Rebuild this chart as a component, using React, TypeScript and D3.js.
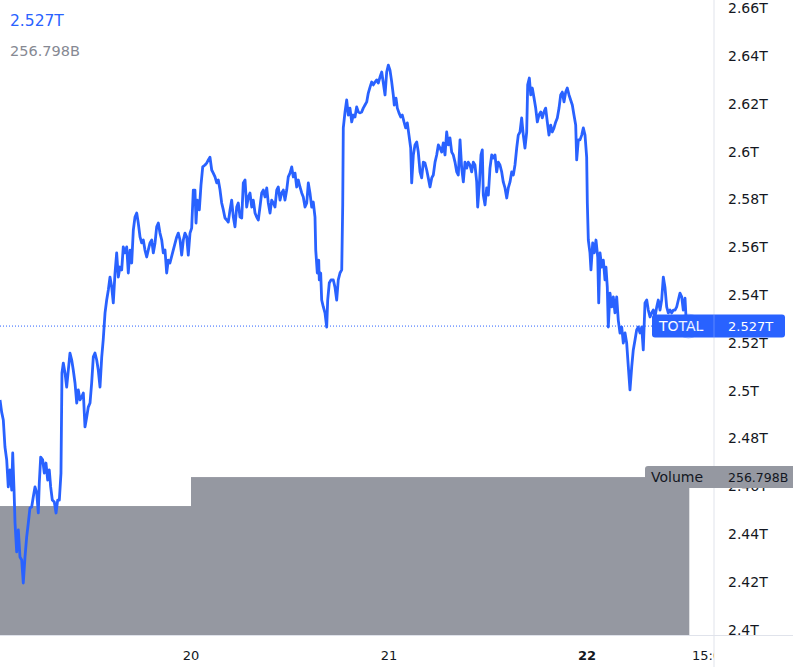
import * as d3 from 'd3'

// total crypto market cap, hours since Jan 19 00:00 -> trillions
const totalCap: [number, number][] = [
  [0.85, 2.4961], [1.05, 2.491], [1.25, 2.4877], [1.45, 2.4764], [1.66, 2.471], [1.85, 2.4597], [2.06, 2.4668],
  [2.27, 2.4584], [2.39, 2.4739], [2.55, 2.4584], [2.67, 2.4446], [2.87, 2.4325], [3.07, 2.4417], [3.27, 2.4304],
  [3.48, 2.4291], [3.67, 2.4195], [3.88, 2.4304], [4.08, 2.4387], [4.28, 2.4446], [4.48, 2.4509], [4.69, 2.4513],
  [4.88, 2.4555], [5.09, 2.4597], [5.3, 2.4572], [5.49, 2.4488], [5.61, 2.4613], [5.78, 2.4722], [6.02, 2.471],
  [6.22, 2.4655], [6.42, 2.4697], [6.63, 2.4626], [6.82, 2.4668], [6.99, 2.4597], [7.19, 2.4542], [7.43, 2.4534],
  [7.64, 2.4488], [7.84, 2.4542], [8.04, 2.4542], [8.24, 2.4655], [8.36, 2.5074], [8.52, 2.5115], [8.73, 2.5074],
  [8.93, 2.5015], [9.13, 2.5086], [9.33, 2.5157], [9.54, 2.5128], [9.73, 2.5086], [9.94, 2.5032], [10.15, 2.4948],
  [10.34, 2.5003], [10.55, 2.4961], [10.75, 2.4973], [10.95, 2.499], [11.15, 2.4848], [11.36, 2.489], [11.55, 2.4931],
  [11.76, 2.4948], [11.96, 2.5032], [12.16, 2.5141], [12.36, 2.5157], [12.57, 2.5128], [12.76, 2.5086], [12.97, 2.5015],
  [13.18, 2.5141], [13.36, 2.5212], [13.58, 2.5325], [13.78, 2.5379], [13.98, 2.5421], [14.18, 2.5475], [14.39, 2.5433],
  [14.58, 2.5367], [14.79, 2.5492], [14.99, 2.5576], [15.19, 2.5475], [15.39, 2.5517], [15.6, 2.5505], [15.79, 2.5601],
  [16.0, 2.5576], [16.21, 2.5601], [16.4, 2.5492], [16.61, 2.5588], [16.81, 2.5534], [17.01, 2.5672], [17.21, 2.5726],
  [17.42, 2.5743], [17.61, 2.5701], [17.82, 2.5643], [18.02, 2.5618], [18.22, 2.563], [18.42, 2.5588], [18.63, 2.5559],
  [18.82, 2.5588], [19.03, 2.5618], [19.24, 2.563], [19.43, 2.5576], [19.64, 2.5618], [19.84, 2.5685], [20.04, 2.5701],
  [20.24, 2.5659], [20.45, 2.563], [20.64, 2.5576], [20.85, 2.5588], [21.05, 2.5492], [21.25, 2.5546], [21.45, 2.5534],
  [21.85, 2.5588], [22.27, 2.5643], [22.46, 2.5659], [22.67, 2.563], [22.87, 2.5567], [23.07, 2.563], [23.27, 2.5659],
  [23.48, 2.5643], [23.67, 2.5567], [23.88, 2.5659], [24.08, 2.568], [24.28, 2.5839], [24.48, 2.5839], [24.61, 2.5701],
  [24.76, 2.5797], [25.01, 2.5756], [25.21, 2.586], [25.42, 2.5936], [25.7, 2.5944], [25.9, 2.5952], [26.1, 2.5965],
  [26.3, 2.5977], [26.51, 2.5923], [26.7, 2.591], [26.91, 2.5894], [27.12, 2.5869], [27.31, 2.5881], [27.52, 2.5839],
  [27.72, 2.5785], [27.92, 2.5756], [28.12, 2.5722], [28.33, 2.5714], [28.52, 2.5705], [28.73, 2.5756], [28.93, 2.5797],
  [29.13, 2.5726], [29.33, 2.5685], [29.54, 2.5768], [29.73, 2.5785], [29.94, 2.5726], [30.15, 2.5722], [30.34, 2.5869],
  [30.55, 2.5881], [30.75, 2.5768], [30.95, 2.581], [31.15, 2.5827], [31.36, 2.5768], [31.55, 2.5797], [31.76, 2.5743],
  [31.96, 2.5726], [32.16, 2.5714], [32.36, 2.5768], [32.57, 2.5827], [32.76, 2.5839], [32.97, 2.581], [33.18, 2.5848],
  [33.37, 2.5785], [33.58, 2.5743], [33.78, 2.5797], [33.98, 2.5785], [34.18, 2.5768], [34.39, 2.5839], [34.58, 2.5852],
  [34.79, 2.5797], [34.99, 2.5827], [35.19, 2.5839], [35.39, 2.5797], [35.6, 2.5839], [35.79, 2.5894], [36.0, 2.591],
  [36.21, 2.5936], [36.4, 2.5894], [36.61, 2.591], [36.81, 2.5852], [37.01, 2.5881], [37.21, 2.5852], [37.42, 2.5827],
  [37.61, 2.581], [37.82, 2.5768], [38.03, 2.5785], [38.22, 2.5869], [38.42, 2.5827], [38.63, 2.5768], [38.82, 2.5789],
  [39.03, 2.5726], [39.12, 2.5588], [39.31, 2.5492], [39.48, 2.5546], [39.55, 2.5463], [39.72, 2.5492], [39.84, 2.5379],
  [40.04, 2.535], [40.24, 2.5325], [40.45, 2.5266], [40.57, 2.5379], [40.76, 2.545], [40.97, 2.5463], [41.25, 2.5463],
  [41.45, 2.5433], [41.66, 2.5379], [41.85, 2.5463], [42.06, 2.5492], [42.27, 2.5505], [42.39, 2.5777], [42.46, 2.6099],
  [42.67, 2.6166], [42.87, 2.6216], [43.07, 2.6153], [43.27, 2.6182], [43.48, 2.6124], [43.67, 2.6153], [43.88, 2.6145],
  [44.08, 2.6187], [44.28, 2.6166], [44.48, 2.6162], [44.69, 2.6166], [44.88, 2.6182], [45.09, 2.6195], [45.3, 2.6208],
  [45.49, 2.6245], [45.7, 2.627], [45.9, 2.6291], [46.1, 2.6279], [46.3, 2.6291], [46.51, 2.63], [46.7, 2.6287],
  [46.91, 2.6312], [47.12, 2.6333], [47.31, 2.6287], [47.52, 2.6237], [47.72, 2.6333], [47.92, 2.6362], [48.12, 2.6341],
  [48.33, 2.6291], [48.52, 2.6237], [48.64, 2.6195], [48.85, 2.6224], [49.01, 2.6182], [49.21, 2.6162], [49.42, 2.6145],
  [49.61, 2.6153], [49.82, 2.6124], [50.02, 2.6099], [50.22, 2.612], [50.42, 2.6069], [50.63, 2.6015], [50.75, 2.5869],
  [50.95, 2.5986], [51.15, 2.6028], [51.36, 2.604], [51.55, 2.5998], [51.76, 2.5915], [51.96, 2.589], [52.16, 2.5956],
  [52.36, 2.5952], [52.57, 2.5923], [52.76, 2.589], [52.97, 2.5852], [53.18, 2.589], [53.37, 2.5902], [53.58, 2.5956],
  [53.78, 2.5986], [53.98, 2.6028], [54.18, 2.6015], [54.39, 2.5998], [54.58, 2.6036], [54.79, 2.5986], [54.99, 2.6082],
  [55.19, 2.6028], [55.39, 2.6057], [55.6, 2.5998], [55.79, 2.5986], [56.0, 2.5956], [56.21, 2.5915], [56.4, 2.5902],
  [56.61, 2.6049], [56.81, 2.5931], [57.01, 2.5873], [57.21, 2.5956], [57.42, 2.5931], [57.61, 2.5956], [57.82, 2.5944],
  [58.02, 2.5915], [58.22, 2.5956], [58.42, 2.5944], [58.63, 2.5873], [58.75, 2.5768], [58.95, 2.586], [59.15, 2.5986],
  [59.31, 2.6007], [59.43, 2.5818], [59.64, 2.5777], [59.84, 2.5848], [60.04, 2.5818], [60.24, 2.5931], [60.45, 2.5986],
  [60.64, 2.5973], [60.85, 2.5986], [61.05, 2.5915], [61.25, 2.5956], [61.45, 2.5944], [61.66, 2.5915], [61.85, 2.5873],
  [62.06, 2.5848], [62.27, 2.5806], [62.46, 2.5848], [62.67, 2.5873], [62.87, 2.5915], [63.07, 2.5902], [63.27, 2.5944],
  [63.48, 2.6015], [63.67, 2.6069], [63.88, 2.6082], [64.08, 2.6141], [64.28, 2.6069], [64.48, 2.6015], [64.69, 2.6082],
  [64.81, 2.6279], [65.01, 2.6308], [65.18, 2.6237], [65.37, 2.6266], [65.58, 2.6224], [65.78, 2.6182], [65.98, 2.6124],
  [66.18, 2.6153], [66.39, 2.6166], [66.58, 2.6141], [66.79, 2.6166], [66.99, 2.6182], [67.19, 2.6124], [67.39, 2.6069],
  [67.6, 2.6111], [67.79, 2.6082], [68.0, 2.6099], [68.21, 2.6124], [68.4, 2.6141], [68.61, 2.6182], [68.81, 2.6237],
  [69.01, 2.6249], [69.21, 2.6208], [69.42, 2.6249], [69.61, 2.6266], [69.82, 2.6237], [70.02, 2.6216], [70.22, 2.6195],
  [70.42, 2.6153], [70.63, 2.6111], [70.75, 2.5965], [70.95, 2.6049], [71.15, 2.6049], [71.36, 2.6069], [71.55, 2.6099],
  [71.76, 2.6069], [71.96, 2.5977], [72.04, 2.5785], [72.16, 2.563], [72.36, 2.5576], [72.48, 2.5505], [72.69, 2.5618],
  [72.88, 2.5576], [73.09, 2.563], [73.3, 2.5559], [73.42, 2.5367], [73.58, 2.5576], [73.78, 2.5517], [73.98, 2.5546],
  [74.18, 2.5463], [74.3, 2.5517], [74.46, 2.5433], [74.58, 2.5266], [74.79, 2.5408], [74.99, 2.535], [75.19, 2.5392],
  [75.39, 2.5325], [75.6, 2.5392], [75.79, 2.5295], [76.0, 2.5241], [76.21, 2.5266], [76.4, 2.5199], [76.61, 2.5241],
  [76.81, 2.5199], [77.01, 2.5099], [77.21, 2.5003], [77.42, 2.5099], [77.61, 2.517], [77.82, 2.5212], [78.02, 2.5254],
  [78.22, 2.5266], [78.42, 2.5241], [78.63, 2.5266], [78.82, 2.517], [79.03, 2.5367], [79.24, 2.5379], [79.43, 2.5337],
  [79.64, 2.5308], [79.84, 2.5325], [80.04, 2.5337], [80.24, 2.5308], [80.45, 2.535], [80.64, 2.5379], [80.85, 2.5337],
  [81.05, 2.5379], [81.25, 2.5475], [81.45, 2.5433], [81.66, 2.535], [81.85, 2.5325], [82.06, 2.5337], [82.27, 2.5325],
  [82.46, 2.5337], [82.67, 2.5337], [82.87, 2.535], [83.07, 2.5379], [83.27, 2.5408], [83.48, 2.5392], [83.67, 2.5337],
  [83.88, 2.5387], [84.06, 2.527],
]

// volume bars: [from hour, to hour, billions]
const volumeBars: [number, number, number][] = [
  [0, 24, 209.7],
  [24, 84.4, 256.798],
]

const yTicks = [2.4, 2.42, 2.44, 2.46, 2.48, 2.5, 2.52, 2.54, 2.56, 2.58, 2.6, 2.62, 2.64, 2.66]
const xTicks: { hour: number; label: string; bold?: boolean }[] = [
  { hour: 24, label: '20' },
  { hour: 48, label: '21' },
  { hour: 72, label: '22', bold: true },
  { hour: 87, label: '15:00' },
]

const lastTotal = 2.527
const lastVolume = 256.798

const W = 793
const H = 667
const axisX = 714
const plotBottom = 635
const font = '"DejaVu Sans", sans-serif'
const blue = '#2962ff'
const volColor = '#9598a1'
const textColor = '#131722'
const gridColor = '#e0e3eb'

export default function App() {
  const x = d3.scaleLinear().domain([24, 72]).range([191, 587])
  const y = d3.scaleLinear().domain([2.4, 2.54]).range([629.6, 295])
  const yVol = d3.scaleLinear().domain([0, 400]).range([plotBottom, plotBottom - 246])

  const line = d3
    .line<[number, number]>()
    .x((d) => x(d[0]))
    .y((d) => y(d[1]))

  const last = totalCap[totalCap.length - 1]
  const lastY = y(lastTotal)
  const volY = yVol(lastVolume)

  return (
    <>
      <style>{`body{margin:0}`}</style>
      <svg width={W} height={H} style={{ display: 'block', background: '#fff' }} fontFamily={font}>
        <defs>
          <clipPath id="plot">
            <rect x={0} y={0} width={axisX} height={plotBottom} />
          </clipPath>
          <clipPath id="axisY">
            <rect x={axisX} y={0} width={W - axisX} height={plotBottom} />
          </clipPath>
          <clipPath id="axisX">
            <rect x={0} y={plotBottom} width={axisX} height={H - plotBottom} />
          </clipPath>
        </defs>

        <g clipPath="url(#plot)">
          {volumeBars.map(([a, b, v], i) => (
            <rect
              key={`vol-${i}`}
              x={x(a)}
              y={yVol(v)}
              width={x(b) - x(a)}
              height={yVol(0) - yVol(v)}
              fill={volColor}
            />
          ))}
          <line
            x1={0}
            x2={axisX}
            y1={lastY}
            y2={lastY}
            stroke={blue}
            strokeWidth={1}
            strokeDasharray="1,2"
          />
          <path
            d={line(totalCap) || ''}
            fill="none"
            stroke={blue}
            strokeWidth={2.8}
            strokeLinejoin="round"
          />
        </g>

        <line x1={axisX} x2={axisX} y1={0} y2={H} stroke={gridColor} />
        <line x1={0} x2={W} y1={plotBottom + 0.5} y2={plotBottom + 0.5} stroke={gridColor} />

        <g clipPath="url(#axisY)">
          {yTicks.map((t) => (
            <text key={t} x={728} y={y(t)} dy="0.36em" fontSize={14} fill={textColor}>
              {`${+t.toFixed(2)}T`}
            </text>
          ))}
        </g>

        <g clipPath="url(#axisX)">
          {xTicks.map((t) => (
            <text
              key={t.label}
              x={x(t.hour)}
              y={660}
              textAnchor="middle"
              fontSize={13}
              fontWeight={t.bold ? 'bold' : 'normal'}
              fill={textColor}
            >
              {t.label}
            </text>
          ))}
        </g>

        {/* volume last value label */}
        <path
          d={`M${W},${volY - 11} H${645 + 3} Q645,${volY - 11} 645,${volY - 8} V${volY + 11} H${W} Z`}
          fill={volColor}
        />
        <text x={651} y={volY} dy="0.36em" fontSize={14} fill={textColor}>
          Volume
        </text>
        <text x={728} y={volY} dy="0.36em" fontSize={12.5} fill={textColor}>
          {`${lastVolume}B`}
        </text>

        {/* total last value label */}
        <rect x={652} y={lastY - 11.5} width={133} height={23} rx={3} fill={blue} />
        <line x1={axisX} x2={axisX} y1={lastY - 11.5} y2={lastY + 11.5} stroke="#ffffff" strokeOpacity={0.25} />
        <text x={659} y={lastY} dy="0.36em" fontSize={14} fill="#fff">
          TOTAL
        </text>
        <text x={728} y={lastY} dy="0.36em" fontSize={13} fill="#fff">
          {`${lastTotal}T`}
        </text>
        <circle
          cx={x(last[0]) + 2}
          cy={lastY}
          r={12}
          fill={blue}
          fillOpacity={0.08}
          stroke={blue}
          strokeOpacity={0.3}
        />

        <text x={10} y={26} fontSize={15.5} fill={blue}>
          {`${lastTotal}T`}
        </text>
        <text x={10} y={56} fontSize={14.5} fill="#868993">
          {`${lastVolume}B`}
        </text>
      </svg>
    </>
  )
}
